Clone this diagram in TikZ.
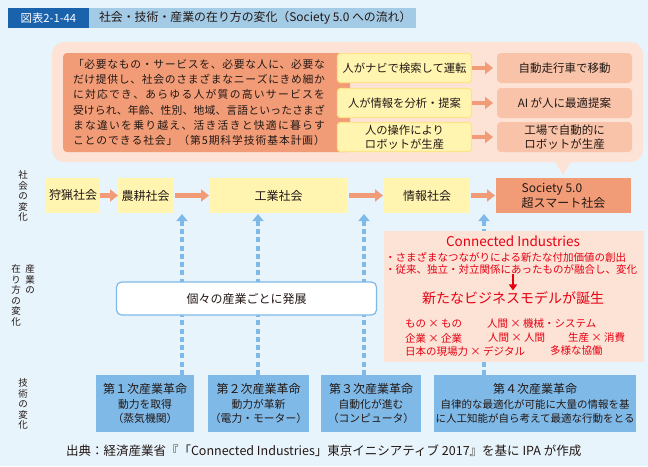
\documentclass[tikz,border=0pt]{standalone}
\usepackage{fontspec}
\setmainfont{Noto Sans CJK JP}
\usetikzlibrary{arrows.meta}

\definecolor{bgblue}{HTML}{E7F4FC}
\definecolor{titledark}{HTML}{1A62AC}
\definecolor{titlelight}{HTML}{A3CBE6}
\definecolor{peach}{HTML}{FDE3D6}
\definecolor{orangebox}{HTML}{F29C77}
\definecolor{salmon}{HTML}{F8C3A8}
\definecolor{paleyellow}{HTML}{FFF5B1}
\definecolor{yellowline}{HTML}{FDE38A}
\definecolor{techblue}{HTML}{7FB9E7}
\definecolor{ciRed}{HTML}{E60012}
\definecolor{ink}{HTML}{231815}

\newcommand\fs[2]{\fontsize{#1}{#2}\selectfont}
% one line of Japanese text spread evenly over a given width
\makeatletter
\newcommand\spreadline[2]{\makebox[#1][s]{\@tfor\spr@tok:=#2\do{\spr@tok\hfil}\unskip}}
\makeatother

\tikzset{
  panel/.style={fill=orangebox, rounded corners=4pt, minimum width=287pt, minimum height=99pt},
  ybox/.style={fill=paleyellow, draw=yellowline, line width=1.2pt, rounded corners=3pt,
    minimum width=134pt, minimum height=29pt, align=center, font=\fs{11.3}{14}},
  rbox/.style={fill=salmon, rounded corners=4pt, minimum width=135pt, minimum height=30pt,
    align=center, font=\fs{11.5}{14}},
  stage/.style={fill=paleyellow, minimum height=35pt, align=center, font=\fs{12}{15}},
  techbox/.style={fill=techblue, minimum height=57pt, align=center, font=\fs{10.8}{14.5}},
  flow/.style={draw=orangebox, line width=4.5pt, -{Triangle[length=8pt,width=12pt]}},
  lift/.style={draw=techblue, line width=4pt, dash pattern=on 5pt off 3.3pt,
    -{Triangle[length=7pt,width=11pt]}},
  vlabel/.style={align=center, font=\fs{9.5}{10.5}},
  cired/.style={text=ciRed},
  ciitem/.style={cired, anchor=west, font=\fs{10.5}{13}},
  redarrow/.style={draw=ciRed, line width=1.8pt, -{Triangle[length=6pt,width=8pt]}}
}

\begin{document}
\begin{tikzpicture}[x=1pt,y=-1pt,
  every node/.append style={inner sep=0pt, outer sep=0pt, text=ink}]
\useasboundingbox (0,0) rectangle (648,466);
\fill[bgblue] (0,0) rectangle (648,466);

% heading bar
\node[fill=titledark, minimum width=81pt, minimum height=20pt, text=white,
  font=\fs{11.3}{13}] (figno) at (48.5,18) {図表2-1-44};
\node[fill=titlelight, anchor=west, minimum width=327pt, minimum height=20pt]
  (titlebar) at (figno.east) {};
\node[anchor=west, font=\fs{11.9}{13}] (title) at (99,18)
  {社会・技術・産業の在り方の変化（Society 5.0 への流れ）};

% speech balloon above the society row
\fill[peach, rounded corners=12pt] (52,42) rectangle (643,162);
\fill[peach] (554,160) -- (572,160) -- (563,175) -- cycle;

\node[panel] (panel) at (206.5,102.5) {};
\node[align=left, font=\fs{10.8}{15.2}] (quote) at (199,102.5) {%
  \spreadline{252pt}{「必要なもの・サービスを、必要な人に、必要な}\\
  \spreadline{252pt}{だけ提供し、社会のさまざまなニーズにきめ細か}\\
  \spreadline{252pt}{に対応でき、あらゆる人が質の高いサービスを}\\
  \spreadline{252pt}{受けられ、年齢、性別、地域、言語といったさまざ}\\
  \spreadline{252pt}{まな違いを乗り越え、活き活きと快適に暮らす}\\
  \spreadline{252pt}{ことのできる社会」（第5期科学技術基本計画）}};

\node[ybox] (y1) at (404.5,68) {人がナビで検索して運転};
\node[ybox] (y2) at (404.5,103) {人が情報を分析・提案};
\node[ybox] (y3) at (404.5,137) {人の操作により\\ロボットが生産};
\node[rbox] (r1) at (564.5,68) {自動走行車で移動};
\node[rbox] (r2) at (564.5,103) {AI が人に最適提案};
\node[rbox] (r3) at (564.5,137) {工場で自動的に\\ロボットが生産};
\foreach \i in {1,2,3} \draw[flow, line width=4pt, shorten >=4pt] (y\i) -- (r\i);

% society row
\node[stage, minimum width=54pt] (hunt) at (73,195.5) {狩猟社会};
\node[stage, minimum width=55pt] (agri) at (145.5,195.5) {農耕社会};
\node[stage, minimum width=137pt] (ind) at (278.5,195.5) {工業社会};
\node[stage, minimum width=86pt] (info) at (427,195.5) {情報社会};
\node[stage, fill=orangebox, minimum width=135pt, align=left] (s5) at (563.5,195.5)
  {Society 5.0\\超スマート社会};
\draw[flow] (hunt) -- (agri);
\draw[flow, shorten <=2pt, shorten >=1pt] (agri) -- (ind);
\draw[flow, shorten <=2pt, shorten >=1pt] (ind) -- (info);
\draw[flow, shorten <=1pt, shorten >=1pt] (info) -- (s5);

% row labels
\node[vlabel] (labsoc) at (23,196) {社\\会\\の\\変\\化};
\node[vlabel, anchor=north] (labind1) at (30,265) {産\\業\\の};
\node[vlabel, anchor=north] (labind2) at (16,265) {在\\り\\方\\の\\変\\化};
\node[vlabel] (labtech) at (23,404) {技\\術\\の\\変\\化};

% technology row
\node[techbox, minimum width=98pt] (tech1) at (145,403.5)
  {{\fs{12}{14.5}第１次産業革命}\\動力を取得\\（蒸気機関）};
\node[techbox, minimum width=101pt] (tech2) at (258.5,403.5)
  {{\fs{12}{14.5}第２次産業革命}\\動力が革新\\（電力・モーター）};
\node[techbox, minimum width=100pt] (tech3) at (371,403.5)
  {{\fs{12}{14.5}第３次産業革命}\\自動化が進む\\（コンピュータ）};
\node[techbox, minimum width=202pt, font=\fs{10.5}{14.5}] (tech4) at (535,403.5)
  {{\fs{12}{14.5}第４次産業革命}\\自律的な最適化が可能に大量の情報を基\\に人工知能が自ら考えて最適な行動をとる};

% upward links from technology to society
\coordinate (h1) at (182,214);
\coordinate (h2) at (258,214);
\coordinate (h3) at (364,214);
\coordinate (h4) at (484,214);
\draw[lift] (tech1.north -| h1) -- (h1);
\draw[lift] (tech2.north -| h2) -- (h2);
\draw[lift] (tech3.north -| h3) -- (h3);
\draw[lift] (tech4.north -| h4) -- (h4);

% industry row
\node[draw=techblue, fill=white, line width=1.2pt, rounded corners=5pt,
  minimum width=260pt, minimum height=33pt, font=\fs{12}{14}] (indiv) at (246.5,298.5)
  {個々の産業ごとに発展};

\node[fill=peach, minimum width=260pt, minimum height=131pt] (cibox) at (514,296.5) {};
\node[cired, font=\fs{13.5}{15}] (ci) at (513,241) {Connected Industries};
\node[ciitem] (ci1) at (385,257) {・さまざまなつながりによる新たな付加価値の創出};
\node[ciitem] (ci2) at (385,269.5) {・従来、独立・対立関係にあったものが融合し、変化};
\node[cired, font=\fs{14}{16}, inner ysep=1pt] (newbiz) at (513,298) {新たなビジネスモデルが誕生};
\draw[redarrow] (ci2.south -| newbiz) -- (newbiz.north);
\node[ciitem] (m1) at (405,324) {もの × もの};
\node[ciitem] (m2) at (487,324) {人間 × 機械・システム};
\node[ciitem] (m3) at (405,338) {企業 × 企業};
\node[ciitem] (m4) at (488,338) {人間 × 人間};
\node[ciitem] (m5) at (568,338) {生産 × 消費};
\node[ciitem] (m6) at (405,351) {日本の現場力 × デジタル};
\node[ciitem] (m7) at (550,351) {多様な協働};

% source line
\node[anchor=west, font=\fs{12.5}{14}] (source) at (66,451)
  {出典：経済産業省『「Connected Industries」東京イニシアティブ 2017』を基に IPA が作成};
\end{tikzpicture}
\end{document}
